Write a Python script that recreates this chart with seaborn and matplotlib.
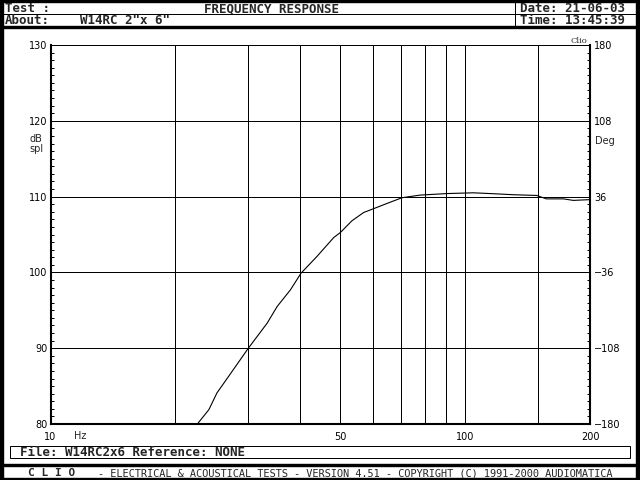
import matplotlib
matplotlib.use("Agg")
import matplotlib.pyplot as plt
import matplotlib.ticker as mticker
from matplotlib.patches import Rectangle
import seaborn as sns

# Frequency response (Hz, dB spl)
freq_hz = [22.6, 24.1, 25.2, 26.9, 28.7, 30.0, 33.3, 35.2, 37.9, 40.2, 43.9, 48.2,
           50.1, 53.3, 56.9, 60.1, 64.8, 70.4, 77.9, 90.3, 104.7, 114.9, 130.5,
           148.8, 157.0, 172.6, 182.3, 200.0]
spl_db = [80.0, 81.9, 84.1, 86.3, 88.5, 90.0, 93.3, 95.5, 97.7, 99.9, 102.1, 104.6,
          105.3, 106.8, 107.9, 108.4, 109.1, 109.85, 110.2, 110.4, 110.5, 110.4, 110.25,
          110.15, 109.7, 109.7, 109.5, 109.6]

x_grid = [20, 30, 40, 50, 60, 70, 80, 90, 100, 150]
x_ticks = [10, 50, 100, 200]
x_ticklabels = ["10", "50", "100", "200"]
y_ticks = [80, 90, 100, 110, 120, 130]
deg_ticks = [-180, -108, -36, 36, 108, 180]

header_test = "FREQUENCY RESPONSE"
header_about = 'W14RC 2"x 6"'
header_date = "Date: 21-06-03"
header_time = "Time: 13:45:39"
file_line = "File: W14RC2x6 Reference: NONE"
footer_rest = "- ELECTRICAL & ACOUSTICAL TESTS - VERSION 4.51 - COPYRIGHT (C) 1991-2000 AUDIOMATICA"

sns.set_style("white")
plt.rcParams["font.family"] = ["DejaVu Sans"]

W, H = 640, 480
fig = plt.figure(figsize=(6.4, 4.8), dpi=100)
fig.patch.set_facecolor("white")

# background "screen" drawn in pixel coordinates
bg = fig.add_axes([0, 0, 1, 1])
bg.set_xlim(0, W)
bg.set_ylim(H, 0)
bg.axis("off")

px = 0.72  # one pixel in points
bg.add_patch(Rectangle((0, 0), 3, H, color="black"))
bg.add_patch(Rectangle((636, 0), 4, H, color="black"))
bg.add_patch(Rectangle((0, 0), W, 1.5, color="black"))
bg.add_patch(Rectangle((0, 478), W, 2, color="black"))
bg.plot([0, W], [13.5, 13.5], color="black", lw=px)
bg.add_patch(Rectangle((0, 26), W, 2, color="black"))
bg.plot([515, 515], [0, 27], color="black", lw=px)
bg.add_patch(Rectangle((0, 464), W, 2, color="black"))
bg.add_patch(Rectangle((10, 446), 620, 12, fill=False, ec="black", lw=px))

mono = "DejaVu Sans Mono"
hdr = dict(family=mono, weight="bold", size=9, va="baseline")
bg.text(5, 12, "Test :", **hdr)
bg.text(271, 12, header_test, ha="center", **hdr)
bg.text(520, 12, header_date, **hdr)
bg.text(5, 24.5, "About:", **hdr)
bg.text(80, 24.5, header_about, **hdr)
bg.text(520, 24.5, header_time, **hdr)
bg.text(20, 456, file_line, **hdr)
bg.text(28, 476, "C L I O", family=mono, weight="bold", size=8, va="baseline")
bg.text(98, 476, footer_rest, family=mono, size=7.4, va="baseline")

bg.text(29, 139, "dB", size=7, va="center")
bg.text(29, 149, "spl", size=7, va="center")
bg.text(595, 141, "Deg", size=7, va="center")
bg.text(80, 436, "Hz", size=7, va="center", ha="center")

# measurement axes
left, right, top, bottom = 50.5, 590, 45, 424
ax = fig.add_axes([left / W, (H - bottom) / H, (right - left) / W, (bottom - top) / H])
ax.set_facecolor("white")

sns.lineplot(x=freq_hz, y=spl_db, ax=ax, color="black", lw=0.8, sort=False)

ax.set_xscale("log")
ax.set_xlim(10, 200)
ax.set_ylim(80, 130)
ax.set_xticks(x_ticks)
ax.set_xticklabels(x_ticklabels)
ax.xaxis.set_minor_locator(mticker.FixedLocator(x_grid))
ax.xaxis.set_minor_formatter(mticker.NullFormatter())
ax.set_yticks(y_ticks)
ax.yaxis.set_minor_locator(mticker.MultipleLocator(1))
ax.grid(False)
ax.grid(True, which="both", axis="x", color="black", lw=px)
ax.grid(True, which="major", axis="y", color="black", lw=px)
ax.set_xlabel("")
ax.set_ylabel("")

ax.tick_params(axis="x", which="major", direction="in", length=3, width=px,
               labelsize=7, pad=6, color="black", labelcolor="black")
ax.tick_params(axis="x", which="minor", length=0)
ax.tick_params(axis="y", which="major", direction="in", length=3, width=px,
               labelsize=7, pad=2, color="black", labelcolor="black")
ax.tick_params(axis="y", which="minor", direction="in", length=2.2, width=px, color="black")

for side, sp in ax.spines.items():
    sp.set_color("black")
    sp.set_linewidth(1.5 if side in ("left", "right", "bottom") else px)

ax2 = ax.twinx()
ax2.set_ylim(-180, 180)
ax2.set_yticks(deg_ticks)
ax2.yaxis.set_minor_locator(mticker.MultipleLocator(7.2))
ax2.tick_params(axis="y", which="major", direction="in", length=3, width=px,
                labelsize=7, pad=3, color="black", labelcolor="black")
ax2.tick_params(axis="y", which="minor", direction="in", length=2.2, width=px, color="black")
ax2.grid(False)
for sp in ax2.spines.values():
    sp.set_visible(False)

ax.text(0.995, 1.0, "Clio", transform=ax.transAxes, ha="right", va="bottom",
        family="DejaVu Serif", size=6)

fig.savefig("out.png", dpi=100, facecolor="white")
